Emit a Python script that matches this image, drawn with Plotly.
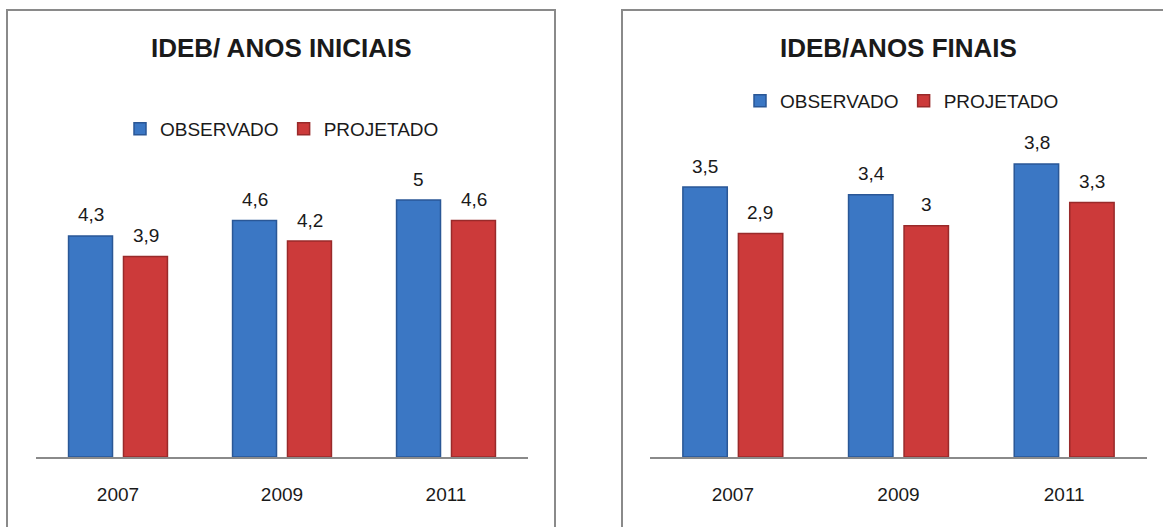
import plotly.graph_objects as go

# IDEB results, observed vs. projected targets
anos = ["2007", "2009", "2011"]
iniciais_observado = [4.3, 4.6, 5.0]
iniciais_projetado = [3.9, 4.2, 4.6]
finais_observado = [3.5, 3.4, 3.8]
finais_projetado = [2.9, 3.0, 3.3]

titulo_iniciais = "IDEB/ ANOS INICIAIS"
titulo_finais = "IDEB/ANOS FINAIS"
nome_obs = "OBSERVADO"
nome_proj = "PROJETADO"

W, H = 1163, 527
FONT = "Liberation Sans, Arial, sans-serif"
BLUE, BLUE_EDGE = "#3b77c4", "#2a5796"
RED, RED_EDGE = "#cc3a3a", "#992a2a"
TXT = "#1a1a1a"
GRAY = "#8a8a8a"


def px_x(p):
    return p / W


def px_y(p):
    return 1 - p / H


def fmt(v):
    return f"{v:g}".replace(".", ",")


fig = go.Figure()

panels = [
    ("x", "y", "legend", iniciais_observado, iniciais_projetado),
    ("x2", "y2", "legend2", finais_observado, finais_projetado),
]
for xa, ya, leg, obs, proj in panels:
    fig.add_trace(go.Bar(
        x=anos, y=obs, name=nome_obs, xaxis=xa, yaxis=ya, legend=leg,
        marker=dict(color=BLUE, line=dict(color=BLUE_EDGE, width=1.5)),
        hoverinfo="skip",
    ))
    fig.add_trace(go.Bar(
        x=anos, y=proj, name=nome_proj, xaxis=xa, yaxis=ya, legend=leg,
        marker=dict(color=RED, line=dict(color=RED_EDGE, width=1.5)),
        hoverinfo="skip",
    ))

# value labels above each bar (x given as category index)
annotations = []
for xa, ya, _, obs, proj in panels:
    for series, shift in ((obs, -27.5), (proj, 27.5)):
        for i, v in enumerate(series):
            annotations.append(dict(
                x=i, y=v, xref=xa, yref=ya, text=fmt(v), showarrow=False,
                xshift=shift, yshift=21, yanchor="middle",
                font=dict(family=FONT, size=19, color=TXT),
            ))

# panel titles
for xc, text in ((281, titulo_iniciais), (898, titulo_finais)):
    annotations.append(dict(
        x=px_x(xc), y=px_y(48), xref="paper", yref="paper", text=f"<b>{text}</b>",
        showarrow=False, xanchor="center", yanchor="middle",
        font=dict(family=FONT, size=26, color=TXT),
    ))

axis_x = dict(
    type="category", range=[-0.5, 2.5], showgrid=False, zeroline=False, showline=True,
    linecolor=GRAY, linewidth=1.5, ticks="", ticklabelstandoff=20,
    tickfont=dict(family=FONT, size=19, color=TXT), fixedrange=True,
)
axis_y = dict(visible=False, showgrid=False, zeroline=False, fixedrange=True)

legend_common = dict(
    orientation="h", xanchor="center", yanchor="middle",
    font=dict(family=FONT, size=19, color=TXT), bgcolor="rgba(0,0,0,0)",
    itemclick=False, itemdoubleclick=False, traceorder="normal",
)

fig.update_layout(
    width=W, height=H,
    margin=dict(l=0, r=0, t=0, b=0),
    paper_bgcolor="white", plot_bgcolor="white",
    barmode="group", bargap=0.33, bargroupgap=0.2,
    xaxis=dict(axis_x, domain=[px_x(36), px_x(528)], anchor="y"),
    yaxis=dict(axis_y, domain=[px_y(457), px_y(148.6)], range=[0, 6], anchor="x"),
    xaxis2=dict(axis_x, domain=[px_x(650), px_x(1147)], anchor="y2"),
    yaxis2=dict(axis_y, domain=[px_y(457), px_y(110)], range=[0, 4.5], anchor="x2"),
    legend=dict(legend_common, x=px_x(282), y=px_y(129)),
    legend2=dict(legend_common, x=px_x(902), y=px_y(101)),
    annotations=annotations,
    shapes=[
        dict(type="rect", xref="paper", yref="paper",
             x0=px_x(7), x1=px_x(555), y0=-0.05, y1=px_y(10),
             line=dict(color=GRAY, width=2), fillcolor="rgba(0,0,0,0)"),
        dict(type="rect", xref="paper", yref="paper",
             x0=px_x(622), x1=1.05, y0=-0.05, y1=px_y(10),
             line=dict(color=GRAY, width=2), fillcolor="rgba(0,0,0,0)"),
    ],
    showlegend=True,
)

fig.write_html("out.html", config=dict(displayModeBar=False, staticPlot=True))
